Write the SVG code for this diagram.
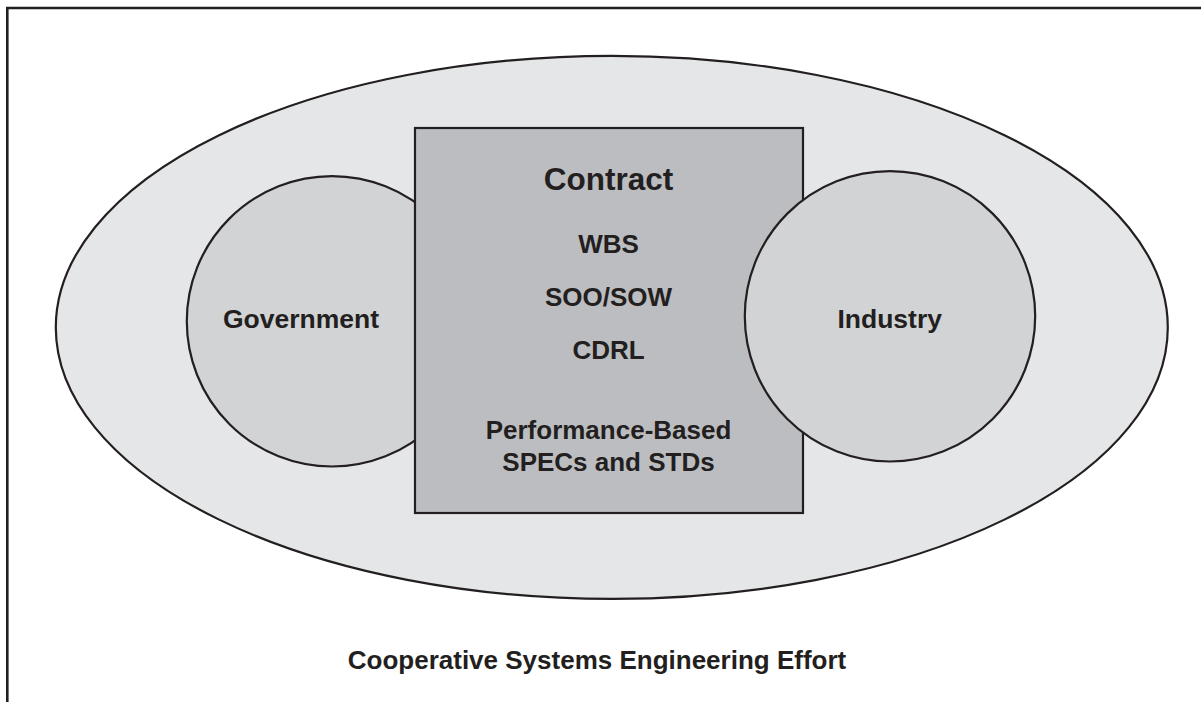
<svg xmlns="http://www.w3.org/2000/svg" width="1201" height="702" viewBox="0 0 1201 702">
  <style>
    .ln { stroke: #231f20; stroke-width: 2.2; }
    .t { font-family: "Liberation Sans", Arial, sans-serif; font-weight: bold; fill: #231f20; text-anchor: middle; }
  </style>
  <rect x="0" y="0" width="1201" height="702" fill="#ffffff"/>
  <g id="frame">
    <path d="M7.3 702 V8 H1201" fill="none" stroke="#231f20" stroke-width="2.6"/>
  </g>
  <g id="effort">
    <ellipse cx="611.8" cy="327.4" rx="556" ry="271.5" fill="#e5e6e8" class="ln"/>
    <text class="t" x="597" y="669" font-size="26">Cooperative Systems Engineering Effort</text>
  </g>
  <g id="government">
    <circle cx="332" cy="321.3" r="145.2" fill="#d1d3d5" class="ln"/>
    <text class="t" x="301" y="327.5" font-size="26.5">Government</text>
  </g>
  <g id="contract">
    <rect x="415" y="128" width="388" height="385" fill="#bcbdc0" class="ln" stroke-width="2.5"/>
    <text class="t" x="608.5" y="190" font-size="31.5">Contract</text>
    <text class="t" x="608.5" y="253" font-size="26">WBS</text>
    <text class="t" x="608.5" y="306" font-size="26">SOO/SOW</text>
    <text class="t" x="608.5" y="359" font-size="26">CDRL</text>
    <text class="t" x="608.5" y="439" font-size="26">Performance-Based</text>
    <text class="t" x="608.5" y="470.7" font-size="26">SPECs and STDs</text>
  </g>
  <g id="industry">
    <circle cx="890" cy="316.3" r="145.2" fill="#d1d3d5" class="ln"/>
    <text class="t" x="889.7" y="328" font-size="26.5">Industry</text>
  </g>
  <g id="connectors"/>
</svg>
